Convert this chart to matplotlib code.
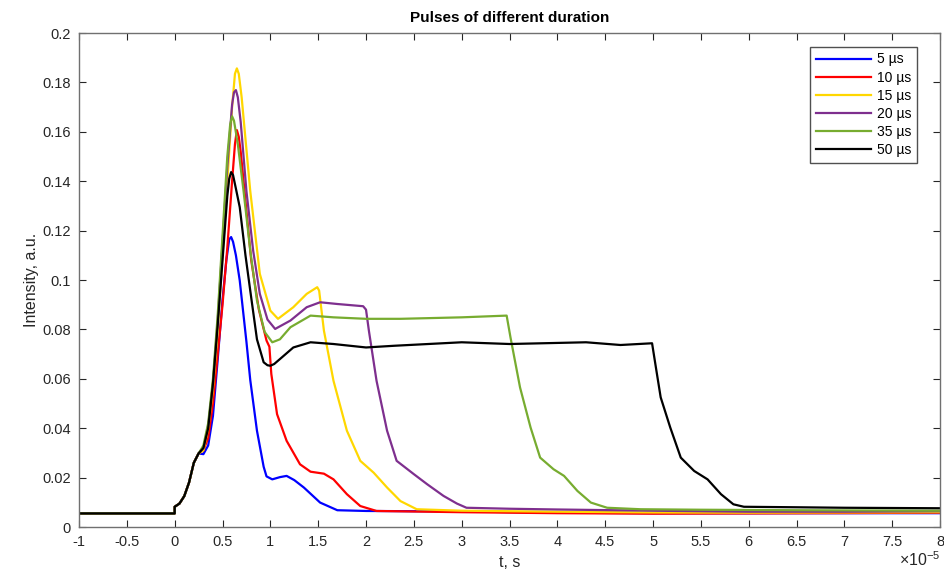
import numpy as np
import matplotlib
matplotlib.use("Agg")
import matplotlib.pyplot as plt
from matplotlib.ticker import MultipleLocator, FuncFormatter

# time in units of 1e-5 s, intensity in a.u.
pre_t = [-1.0, 0.0, 0.0, 0.05, 0.1, 0.15, 0.2, 0.25]
pre_i = [0.0055, 0.0055, 0.0082, 0.0095, 0.0125, 0.018, 0.026, 0.0298]

t_5us = [0.3, 0.35, 0.4, 0.45, 0.5, 0.54, 0.57, 0.59, 0.61, 0.64, 0.68, 0.75, 0.79,
         0.86, 0.93, 0.96, 1.02, 1.1, 1.17, 1.25, 1.35, 1.52, 1.7, 2.0, 3.0, 4.0,
         5.0, 8.0]
i_5us = [0.0295, 0.033, 0.045, 0.068, 0.092, 0.108, 0.1165, 0.1174, 0.1155, 0.11,
         0.0998, 0.075, 0.0595, 0.039, 0.0244, 0.0205, 0.0193, 0.0202, 0.0207, 0.019,
         0.016, 0.0099, 0.0068, 0.0065, 0.0063, 0.0058, 0.0056, 0.0056]

t_10us = [0.3, 0.35, 0.4, 0.45, 0.5, 0.55, 0.6, 0.63, 0.65, 0.67, 0.69, 0.72, 0.8,
          0.88, 0.96, 0.99, 1.01, 1.07, 1.17, 1.31, 1.42, 1.56, 1.66, 1.8, 1.94, 2.11,
          3.0, 4.0, 5.0, 6.0, 8.0]
i_10us = [0.031, 0.036, 0.05, 0.07, 0.09, 0.113, 0.14, 0.155, 0.1607, 0.158, 0.152,
          0.14, 0.108, 0.088, 0.0755, 0.073, 0.062, 0.0457, 0.0349, 0.0254, 0.0224,
          0.0216, 0.0193, 0.0133, 0.0085, 0.0065, 0.006, 0.0056, 0.0054, 0.0055, 0.0058]

t_15us = [0.3, 0.35, 0.4, 0.45, 0.5, 0.55, 0.6, 0.63, 0.65, 0.67, 0.7, 0.79, 0.89,
          1.0, 1.08, 1.24, 1.38, 1.49, 1.51, 1.56, 1.66, 1.8, 1.94, 2.08, 2.22, 2.36,
          2.53, 3.0, 4.0, 5.0, 6.0, 8.0]
i_15us = [0.031, 0.04, 0.056, 0.08, 0.11, 0.14, 0.17, 0.1835, 0.1857, 0.1835, 0.174,
          0.136, 0.1025, 0.0876, 0.0843, 0.089, 0.0944, 0.0971, 0.0957, 0.0795, 0.0592,
          0.039, 0.0268, 0.022, 0.016, 0.0105, 0.0072, 0.0066, 0.0062, 0.0059, 0.0058,
          0.006]

t_20us = [0.3, 0.35, 0.4, 0.45, 0.5, 0.55, 0.6, 0.62, 0.64, 0.66, 0.69, 0.75, 0.82,
          0.89, 0.97, 1.05, 1.21, 1.38, 1.52, 1.7, 1.97, 2.0, 2.03, 2.11, 2.22, 2.32,
          2.5, 2.64, 2.81, 2.95, 3.05, 3.5, 4.0, 5.0, 6.0, 7.0, 8.0]
i_20us = [0.032, 0.041, 0.058, 0.084, 0.115, 0.146, 0.171, 0.176, 0.1769, 0.174,
          0.164, 0.136, 0.112, 0.0944, 0.084, 0.0802, 0.0836, 0.089, 0.091, 0.0903,
          0.0894, 0.088, 0.0795, 0.0592, 0.039, 0.0268, 0.0214, 0.0173, 0.0126, 0.0095,
          0.0078, 0.0074, 0.0071, 0.0066, 0.0062, 0.0062, 0.0064]

t_35us = [0.3, 0.35, 0.4, 0.45, 0.5, 0.55, 0.58, 0.6, 0.62, 0.66, 0.72, 0.79, 0.86,
          0.94, 1.02, 1.1, 1.21, 1.42, 1.66, 2.0, 2.36, 3.0, 3.47, 3.51, 3.61, 3.72,
          3.82, 3.96, 4.07, 4.21, 4.35, 4.52, 4.87, 5.5, 6.5, 8.0]
i_35us = [0.033, 0.042, 0.06, 0.086, 0.118, 0.15, 0.163, 0.1663, 0.1645, 0.155, 0.136,
          0.112, 0.0917, 0.079, 0.0748, 0.076, 0.0809, 0.0856, 0.0849, 0.0843, 0.0843,
          0.0849, 0.0856, 0.0768, 0.0565, 0.0403, 0.0281, 0.0234, 0.0207, 0.0146,
          0.0099, 0.0078, 0.0072, 0.007, 0.0068, 0.0066]

t_50us = [0.3, 0.35, 0.4, 0.45, 0.5, 0.55, 0.57, 0.59, 0.61, 0.64, 0.68, 0.74, 0.79,
          0.86, 0.93, 0.97, 1.0, 1.04, 1.1, 1.24, 1.42, 1.66, 2.0, 2.3, 3.0, 3.5, 4.3,
          4.66, 4.99, 5.03, 5.08, 5.18, 5.29, 5.43, 5.57, 5.71, 5.84, 5.95, 6.5, 7.0,
          7.5, 8.0]
i_50us = [0.032, 0.04, 0.058, 0.082, 0.108, 0.134, 0.141, 0.1437, 0.1425, 0.137,
          0.1295, 0.11, 0.0957, 0.076, 0.0667, 0.0655, 0.0653, 0.066, 0.068, 0.0727,
          0.0748, 0.0741, 0.0727, 0.0734, 0.0748, 0.0741, 0.0748, 0.0737, 0.0744,
          0.0646, 0.0525, 0.0403, 0.0281, 0.0227, 0.0193, 0.0133, 0.0092, 0.0082,
          0.008, 0.0078, 0.0077, 0.0076]

labels = ["5 µs", "10 µs", "15 µs", "20 µs", "35 µs", "50 µs"]
colors = ["#0000ff", "#ff0000", "#ffd700", "#7e2f8e", "#77ac30", "#000000"]

plt.rcParams['font.family'] = ['Liberation Sans', 'DejaVu Sans']
plt.rcParams['axes.unicode_minus'] = False
plt.rcParams['mathtext.default'] = 'regular'

fig = plt.figure(figsize=(9.44, 5.70), dpi=100)
ax = fig.add_axes([0.0837, 0.0754, 0.9121, 0.8666])

series = [(t_5us, i_5us), (t_10us, i_10us), (t_15us, i_15us),
          (t_20us, i_20us), (t_35us, i_35us), (t_50us, i_50us)]
for (t, y), lab, c in zip(series, labels, colors):
    ax.plot(pre_t + t, pre_i + y, color=c, lw=1.6, label=lab)

ax.set_xlim(-1, 8)
ax.set_ylim(0, 0.2)
ax.xaxis.set_major_locator(MultipleLocator(0.5))
ax.yaxis.set_major_locator(MultipleLocator(0.02))
ax.xaxis.set_major_formatter(FuncFormatter(lambda v, p: "%g" % round(v, 3)))
ax.yaxis.set_major_formatter(FuncFormatter(lambda v, p: "%g" % round(v, 3)))

ax.tick_params(direction='in', length=5, width=0.8, top=True, right=True,
               labelsize=10.5, colors='#262626', pad=6)
for s in ax.spines.values():
    s.set_color('#707070')
    s.set_linewidth(1.0)

ax.set_title("Pulses of different duration", fontsize=11, fontweight='bold', pad=8)
ax.set_xlabel("t, s", fontsize=11.5, color='#262626', labelpad=4)
ax.set_ylabel("Intensity, a.u.", fontsize=11.5, color='#262626', labelpad=2)
ax.text(1.0, -0.066, r"$\times10^{-5}$", transform=ax.transAxes, ha='right',
        va='center', fontsize=11.5, color='#262626')

leg = ax.legend(loc='upper right', bbox_to_anchor=(0.973, 0.972), fontsize=10,
                handlelength=4.0, fancybox=False, framealpha=1, borderpad=0.4,
                labelspacing=0.3, handletextpad=0.4, borderaxespad=0)
leg.get_frame().set_edgecolor('#505050')
leg.get_frame().set_linewidth(1.0)

fig.savefig("out.png", dpi=100)
